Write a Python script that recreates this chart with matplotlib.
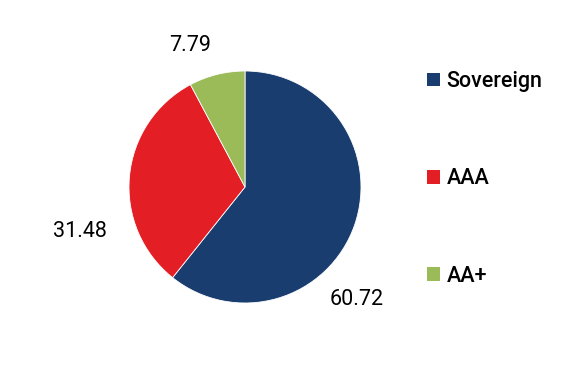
import numpy as np
import matplotlib.pyplot as plt
from matplotlib.patches import Patch

plt.rcParams['font.family'] = ['Roboto', 'DejaVu Sans']

# data
labels = ['Sovereign', 'AAA', 'AA+']
values = [60.72, 31.48, 7.79]
colors = ['#1a3d70', '#e31e24', '#9bbb59']

# label text positions (in pie radius units), placed by hand like the original
label_pos = [(0.96, -0.97), (-1.42, -0.38), (-0.47, 1.22)]

W, H = 585, 375
fig = plt.figure(figsize=(W / 100, H / 100), dpi=100)

cx, cy, r = 245, 187, 116
ax = fig.add_axes([(cx - r) / W, (H - cy - r) / H, 2 * r / W, 2 * r / H])
wedges, _ = ax.pie(values, colors=colors, startangle=90, counterclock=False,
                   wedgeprops=dict(edgecolor='white', linewidth=0.6))
ax.set_xlim(-1, 1)
ax.set_ylim(-1, 1)
ax.set_aspect('equal')
ax.axis('off')

for v, (px, py) in zip(values, label_pos):
    ax.text(px, py, '%.2f' % v, fontsize=15.5, ha='center', va='center',
            color='black', clip_on=False)

handles = [Patch(facecolor=c, edgecolor='none') for c in colors]
leg = fig.legend(handles, labels, loc='upper left', bbox_to_anchor=(427 / W, 1 - 71 / H),
                 frameon=False, fontsize=15.5, handlelength=0.6, handleheight=0.6,
                 handletextpad=0.3, labelspacing=3.55, borderpad=0, borderaxespad=0)
for t in leg.get_texts():
    t.set_fontweight('medium')

fig.savefig('out.png', dpi=100)
